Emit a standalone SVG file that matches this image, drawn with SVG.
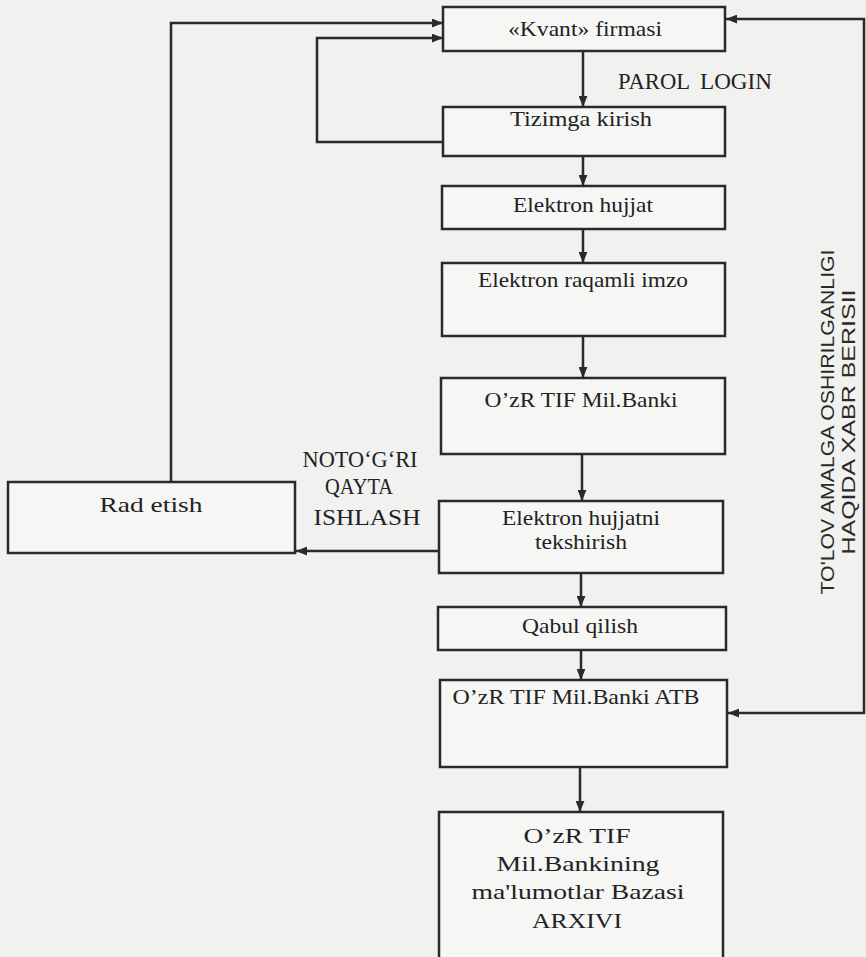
<svg xmlns="http://www.w3.org/2000/svg" width="866" height="957" viewBox="0 0 866 957">
<defs>
<style>
.box{fill:#f6f6f4;stroke:#2a2a2a;stroke-width:2.5}
.t{font-family:"Liberation Serif","Times New Roman",serif;font-size:21px;fill:#222;text-anchor:middle}
.lbl{font-family:"Liberation Serif","Times New Roman",serif;font-size:23px;fill:#222;text-anchor:middle}
.side{font-family:"Liberation Sans",Arial,sans-serif;font-size:19px;fill:#2a2a2a;text-anchor:middle}
.c{fill:none;stroke:#2a2a2a;stroke-width:2.5}
</style>
<marker id="ah" viewBox="0 0 10 8" refX="10" refY="4" markerWidth="11" markerHeight="9" markerUnits="userSpaceOnUse" orient="auto-start-reverse">
<path d="M0,0 L10,4 L0,8 z" fill="#2a2a2a"/>
</marker>
</defs>
<rect x="0" y="0" width="866" height="957" fill="#f1f1ef"/>

<g id="connectors">
<path class="c" d="M583 51 L583 107" marker-end="url(#ah)"/>
<path class="c" d="M583 156 L583 186" marker-end="url(#ah)"/>
<path class="c" d="M583 229 L583 263" marker-end="url(#ah)"/>
<path class="c" d="M583 336 L583 378" marker-end="url(#ah)"/>
<path class="c" d="M582 454 L582 501" marker-end="url(#ah)"/>
<path class="c" d="M581 573 L581 607" marker-end="url(#ah)"/>
<path class="c" d="M581 650 L581 680" marker-end="url(#ah)"/>
<path class="c" d="M580 767 L580 812" marker-end="url(#ah)"/>
<path class="c" d="M443 142 L317 142 L317 38 L443 38" marker-end="url(#ah)"/>
<path class="c" d="M171 482 L171 23 L443 23" marker-end="url(#ah)"/>
<path class="c" d="M439 551 L296 551" marker-end="url(#ah)"/>
<path class="c" d="M728 713 L864 713 L864 19 L726 19" marker-start="url(#ah)" marker-end="url(#ah)"/>
</g>

<g id="label-parol">
<text class="lbl" x="654" y="89" textLength="72" lengthAdjust="spacingAndGlyphs">PAROL</text>
<text class="lbl" x="736" y="89" textLength="72" lengthAdjust="spacingAndGlyphs">LOGIN</text>
</g>
<g id="label-notogri">
<text class="lbl" x="360" y="467" textLength="115" lengthAdjust="spacingAndGlyphs">NOTO‘G‘RI</text>
<text class="lbl" x="359" y="494" textLength="68" lengthAdjust="spacingAndGlyphs">QAYTA</text>
<text class="lbl" x="367" y="525" textLength="107" lengthAdjust="spacingAndGlyphs">ISHLASH</text>
</g>
<g id="label-tolov">
<text class="side" transform="translate(834,422) rotate(-90)" x="0" y="0" textLength="345" lengthAdjust="spacingAndGlyphs">TO'LOV AMALGA OSHIRILGANLIGI</text>
<text class="side" transform="translate(855,422) rotate(-90)" x="0" y="0" textLength="265" lengthAdjust="spacingAndGlyphs">HAQIDA XABR BERISII</text>
</g>

<g id="kvant">
<rect class="box" x="443" y="7" width="282" height="44"/>
<text class="t" x="585" y="36" textLength="154" lengthAdjust="spacingAndGlyphs">«Kvant» firmasi</text>
</g>
<g id="tizimga">
<rect class="box" x="443" y="107" width="282" height="49"/>
<text class="t" x="581" y="126" textLength="142" lengthAdjust="spacingAndGlyphs">Tizimga kirish</text>
</g>
<g id="elektron-hujjat">
<rect class="box" x="442" y="186" width="283" height="43"/>
<text class="t" x="583" y="212" textLength="140" lengthAdjust="spacingAndGlyphs">Elektron hujjat</text>
</g>
<g id="imzo">
<rect class="box" x="442" y="263" width="283" height="73"/>
<text class="t" x="583" y="287" textLength="210" lengthAdjust="spacingAndGlyphs">Elektron raqamli imzo</text>
</g>
<g id="milbank">
<rect class="box" x="441" y="378" width="284" height="76"/>
<text class="t" x="581" y="407" textLength="193" lengthAdjust="spacingAndGlyphs">O’zR TIF Mil.Banki</text>
</g>
<g id="tekshirish">
<rect class="box" x="439" y="501" width="284" height="72"/>
<text class="t" x="581" y="525" textLength="158" lengthAdjust="spacingAndGlyphs">Elektron hujjatni</text>
<text class="t" x="581" y="549" textLength="92" lengthAdjust="spacingAndGlyphs">tekshirish</text>
</g>
<g id="qabul">
<rect class="box" x="438" y="607" width="288" height="43"/>
<text class="t" x="580" y="633" textLength="116" lengthAdjust="spacingAndGlyphs">Qabul qilish</text>
</g>
<g id="atb">
<rect class="box" x="440" y="680" width="287" height="87"/>
<text class="t" x="576" y="704" textLength="247" lengthAdjust="spacingAndGlyphs">O’zR TIF Mil.Banki ATB</text>
</g>
<g id="arxiv">
<rect class="box" x="439" y="812" width="284" height="160"/>
<text class="t" x="577" y="843" textLength="107" lengthAdjust="spacingAndGlyphs">O’zR TIF</text>
<text class="t" x="578" y="871" textLength="163" lengthAdjust="spacingAndGlyphs">Mil.Bankining</text>
<text class="t" x="578" y="899" textLength="213" lengthAdjust="spacingAndGlyphs">ma'lumotlar Bazasi</text>
<text class="t" x="577" y="928" textLength="90" lengthAdjust="spacingAndGlyphs">ARXIVI</text>
</g>
<g id="rad">
<rect class="box" x="8" y="482" width="287" height="71"/>
<text class="t" x="151" y="512" textLength="103" lengthAdjust="spacingAndGlyphs">Rad etish</text>
</g>
</svg>
